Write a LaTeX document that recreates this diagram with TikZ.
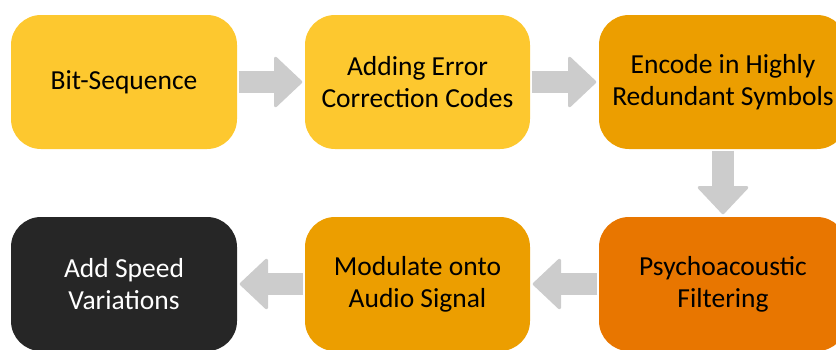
\documentclass[tikz,border=0pt]{standalone}
\usepackage{fontspec}
\setmainfont{Carlito}
\usetikzlibrary{arrows.meta}

\definecolor{gold}{RGB}{253,200,47}
\definecolor{amber}{RGB}{236,158,0}
\definecolor{tangerine}{RGB}{232,118,0}
\definecolor{charcoal}{RGB}{38,38,38}
\definecolor{arrowgrey}{RGB}{204,204,204}

\begin{document}
\begin{tikzpicture}
  [x=1pt,y=-1pt,
   box/.style={rectangle,rounded corners=30pt,inner sep=0pt,minimum height=134pt,
     align=center,font=\fontsize{27.5}{32}\selectfont},
   flow/.style={draw=arrowgrey,line width=22pt,
     -{Triangle[length=29pt,width=54pt,round,line width=3pt]},
     shorten <=1.5pt,shorten >=2.5pt}]
  \useasboundingbox (0,0) rectangle (836,349);

  \node[box,fill=gold,minimum width=226pt] (bits) at (124,82) {Bit-Sequence};
  \node[box,fill=gold,minimum width=225pt] (ecc) at (417.5,82) {Adding Error\\Correction Codes};
  \node[box,fill=amber,minimum width=248pt] (enc) at (723,82) {Encode in Highly\\Redundant Symbols};
  \node[box,fill=tangerine,minimum width=248pt] (psy) at (723,284) {Psychoacoustic\\Filtering};
  \node[box,fill=amber,minimum width=225pt] (mod) at (417.5,284) {Modulate onto\\Audio Signal};
  \node[box,fill=charcoal,text=white,minimum width=226pt] (speed) at (124,284) {Add Speed\\Variations};

  \foreach \from/\to in {bits/ecc,ecc/enc,enc/psy,psy/mod,mod/speed}
    \draw[flow] (\from) -- (\to);
\end{tikzpicture}
\end{document}
